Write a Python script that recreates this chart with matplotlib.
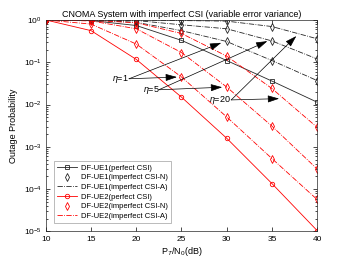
import numpy as np
import matplotlib
matplotlib.use('Agg')
import matplotlib.pyplot as plt
from matplotlib.lines import Line2D

plt.rcParams['font.family'] = ['Liberation Sans', 'DejaVu Sans']
plt.rcParams['mathtext.fontset'] = 'custom'
plt.rcParams['mathtext.rm'] = 'Liberation Sans'
plt.rcParams['mathtext.it'] = 'Liberation Sans:italic'

snr = [10, 15, 20, 25, 30, 35, 40]

# UE1 (black)
ue1_perfect = [1.0, 0.97, 0.74, 0.33, 0.11, 0.036, 0.0114]
ue1_eta1 = [1.0, 0.99, 0.88, 0.56, 0.31, 0.11, 0.037]
ue1_eta5 = [1.0, 1.0, 0.97, 0.77, 0.62, 0.32, 0.12]
ue1_eta20 = [1.0, 1.0, 1.0, 0.97, 0.94, 0.70, 0.36]

# UE2 (red)
ue2_perfect = [1.0, 0.56, 0.117, 0.015, 1.6e-3, 1.36e-4, 1.05e-5]
ue2_eta1 = [1.0, 0.80, 0.27, 0.045, 5.1e-3, 5.3e-4, 5.7e-5]
ue2_eta5 = [1.0, 0.95, 0.62, 0.17, 0.026, 3.1e-3, 3.0e-4]
ue2_eta20 = [1.0, 0.98, 0.86, 0.48, 0.14, 0.024, 2.9e-3]

legend_labels = ['DF-UE1(perfect CSI)', 'DF-UE1(imperfect CSI-N)', 'DF-UE1(imperfect CSI-A)',
                 'DF-UE2(perfect CSI)', 'DF-UE2(imperfect CSI-N)', 'DF-UE2(imperfect CSI-A)']

# eta labels: (text, text pos, line start, [arrow tips])
eta_notes = [
    ('$\\eta$=1', (18.2, 10**-1.39), (19.2, 10**-1.39), [(29.4, 10**-0.54), (24.5, 10**-1.35)]),
    ('$\\eta$=5', (21.7, 10**-1.65), (22.5, 10**-1.65), [(34.5, 10**-0.50), (29.5, 10**-1.59)]),
    ('$\\eta$=20', (29.3, 10**-1.89), (30.5, 10**-1.89), [(37.7, 10**-0.38), (35.8, 10**-1.86)]),
]

blk = '#262626'
red = '#ff0000'
lw = 0.6

fig = plt.figure(figsize=(3.5, 2.63), dpi=100)
ax = fig.add_axes([0.131, 0.120, 0.775, 0.804])

ax.plot(snr, ue1_perfect, '-s', color=blk, lw=lw, ms=2.6, mfc='none', mew=0.6)
for y in [ue1_eta1, ue1_eta5, ue1_eta20]:
    ax.plot(snr, y, '-.', color=blk, lw=lw)
    ax.plot(snr, y, 'd', color=blk, ms=4, mfc='none', mew=0.6)

ax.plot(snr, ue2_perfect, '-o', color=red, lw=lw, ms=3.2, mfc='none', mew=0.6)
for y in [ue2_eta1, ue2_eta5, ue2_eta20]:
    ax.plot(snr, y, '-.', color=red, lw=lw)
    ax.plot(snr, y, 'd', color=red, ms=4, mfc='none', mew=0.6)

for txt, pos, start, tips in eta_notes:
    ax.text(pos[0], pos[1], txt, fontsize=6.5, ha='center', va='center')
    for tip in tips:
        ax.annotate('', xy=tip, xytext=start,
                    arrowprops=dict(arrowstyle='-|>,head_length=0.7,head_width=0.22',
                                    color=blk, fc='k', ec='k', lw=0.5,
                                    shrinkA=0, shrinkB=0))

ax.set_yscale('log')
ax.set_xlim(10, 40)
ax.set_ylim(1e-5, 1)
ax.set_xticks([10, 15, 20, 25, 30, 35, 40])
ax.tick_params(which='both', direction='in', top=True, right=True, labelsize=6, width=0.5, pad=3)
ax.tick_params(which='major', length=3)
ax.tick_params(which='minor', length=1.5)
for s in ax.spines.values():
    s.set_linewidth(0.5)
    s.set_color('#262626')

ax.set_title('CNOMA System with imperfect CSI (variable error variance)', fontsize=6.5, pad=2)
ax.set_xlabel('P$_T$/N$_0$(dB)', fontsize=6.5, labelpad=2)
ax.set_ylabel('Outage Probability', fontsize=6.5, labelpad=4)

handles = [
    Line2D([], [], color=blk, ls='-', marker='s', ms=2.6, mfc='none', lw=lw, mew=0.6),
    Line2D([], [], color=blk, ls='none', marker='d', ms=4, mfc='none', mew=0.6),
    Line2D([], [], color=blk, ls='-.', lw=lw),
    Line2D([], [], color=red, ls='-', marker='o', ms=3.2, mfc='none', lw=lw, mew=0.6),
    Line2D([], [], color=red, ls='none', marker='d', ms=4, mfc='none', mew=0.6),
    Line2D([], [], color=red, ls='-.', lw=lw),
]
leg = ax.legend(handles, legend_labels, loc='lower left', bbox_to_anchor=(0.03, 0.04),
                borderaxespad=0, fontsize=5.5, frameon=True, fancybox=False,
                edgecolor='#888888', handlelength=2.6, labelspacing=0.3,
                borderpad=0.4, handletextpad=0.6)
leg.get_frame().set_linewidth(0.5)

fig.savefig('out.png', dpi=100)
